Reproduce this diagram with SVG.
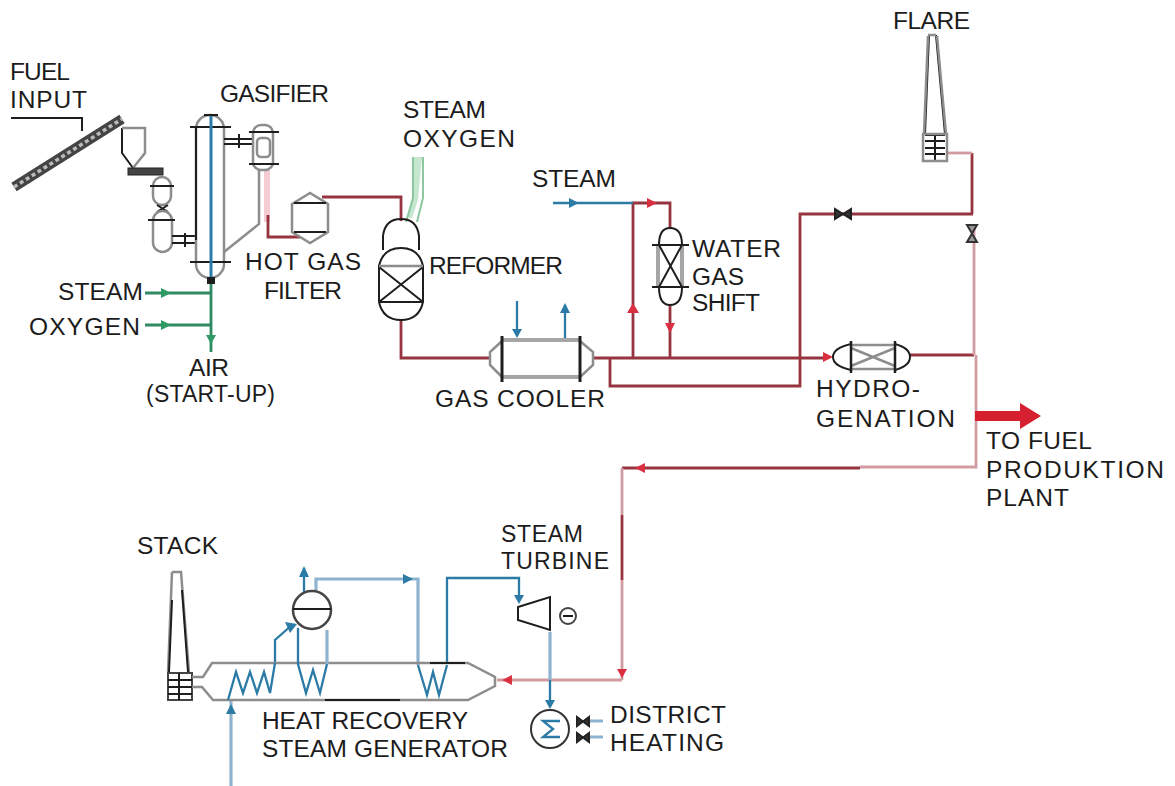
<svg xmlns="http://www.w3.org/2000/svg" width="1175" height="786" viewBox="0 0 1175 786">
<defs>
<style>
text{font-family:"Liberation Sans",Arial,sans-serif;font-size:24.5px;fill:#1c1c1c}
.k{fill:none;stroke:#1e1e1e;stroke-width:2}
.g{fill:none;stroke:#8d8d8d;stroke-width:2.5}
.gt{fill:none;stroke:#a5a5a5;stroke-width:4}
.r{fill:none;stroke:#96343f;stroke-width:2.8}
.rl{fill:none;stroke:#d29aa1;stroke-width:2.8}
.b{fill:none;stroke:#2b7ba6;stroke-width:2.3}
.bl{fill:none;stroke:#8fb3cf;stroke-width:3.2}
.gr{fill:none;stroke:#2f8a62;stroke-width:2.8}
.grl{fill:none;stroke:#8cc79f;stroke-width:2}
.ar{fill:#d92f40}.ab{fill:#2b7ba6}.ag{fill:#2f9a66}
</style>
</defs>
<rect width="1175" height="786" fill="#fff"/>

<g id="connectors">
<path class="k" d="M11 118H82V131"/>
<path class="gr" d="M145 293H211M145 325H211M211 280V352"/>
<path class="ag" d="M161 288L171 293L161 298ZM161 320L171 325L161 330ZM206 335H216L211 344Z"/>
<path d="M267 170V222" fill="none" stroke="#f4ccd2" stroke-width="6"/>
<path class="r" d="M268 215V237H300M322 197H401V221"/>
<path d="M413 157H422L418 200L412 218L407 218L413 198Z" fill="#c5e6cf"/>
<path class="grl" d="M413 157V198L406 222M423 157V198L417 222"/>
<path class="r" d="M401 320V358H490M593 358H824M610 358V386H800V214H973M633 358V203H670V229M670 305V358M910 355H974M972 214V153"/>
<path class="rl" d="M947 153H972"/>
<path class="rl" d="M974 225V355"/>
<path class="rl" d="M976 355V467H860"/>
<path class="r" d="M860 468H622"/>
<path class="rl" d="M622 468V515M622 580V680M622 680H497"/>
<path class="r" d="M622 515V580"/>
<path class="ar" d="M647 198L657 203L647 208ZM627 313L633 303L639 313ZM665 323H675L670 333ZM823 352L833 357L823 362ZM635 468L645 463V473ZM617 669H627L622 678ZM502 680L512 675V685Z"/>
<path d="M975 411H1020V403L1041 416L1020 429V421H975Z" fill="#d6202f"/>
<path class="b" d="M553 203H633M517 301V336M565 340V305"/>
<path class="ab" d="M569 198L579 203L569 208ZM512 329H522L517 338ZM560 313L565 303L570 313Z"/>
<path class="bl" d="M231 786V700"/>
<path class="ab" d="M226 714L231 704L236 714Z"/>
<path class="b" d="M275 663V640L292 625"/>
<path class="ab" d="M285 622L297 624L290 633Z"/>
<path class="b" d="M304 592V568"/>
<path class="ab" d="M299 577L304 566L309 577Z"/>
<path class="bl" d="M316 590V579H418V665M550 632V680"/>
<path class="ab" d="M403 574L413 579L403 584Z"/>
<path class="b" d="M447 663V578H519V600M550 680V706"/>
<path class="ab" d="M514 595H524L519 604ZM545 700H555L550 709Z"/>
<path class="bl" d="M590 721H603M590 737H603" stroke-width="2"/>
</g>

<g id="conveyor">
<path d="M14 187L122 119" fill="none" stroke="#444" stroke-width="10"/>
<path d="M14 187L122 119" fill="none" stroke="#bbb" stroke-width="3.5" stroke-dasharray="4 3"/>
</g>
<g id="hopper">
<path class="k" d="M122 128V153L133 168"/>
<path class="g" d="M122 128H145V153L133 168"/>
<rect x="128" y="168" width="35" height="7" fill="#444" stroke="#222"/>
</g>
<g id="lock-upper">
<rect class="g" x="153" y="177" width="18" height="28" rx="9"/>
<path class="k" d="M150 186H174"/>
</g>
<g id="lock-lower">
<path class="k" d="M157 205L168 212M168 205L157 212"/>
<rect class="g" x="153" y="211" width="19" height="41" rx="9.5"/>
<path class="k" d="M148 220H175M172 236H197M172 243H197M185 233V247"/>
</g>
<g id="gasifier">
<rect class="g" x="196" y="115" width="28" height="163" rx="14"/>
<path class="k" d="M196 128V240" stroke-width="3"/>
<path class="k" d="M190 127H231M190 262H231M204 115H218"/>
<path d="M211 116V278" fill="none" stroke="#2b7ba6" stroke-width="3"/>
<path d="M207 277H215V284H207Z" fill="#1e1e1e"/>
<path class="k" d="M224 139H253M224 144H253M239 134V148"/>
<rect class="g" x="253" y="125" width="20" height="45" rx="8"/>
<path class="k" d="M249 132H279M249 164H279"/>
<rect class="g" x="257" y="138" width="13" height="19" rx="4"/>
<path class="g" d="M259 170V224L224 252"/>
<text x="220" y="102" textLength="109">GASIFIER</text>
</g>
<g id="fuel-label"><text x="10" y="80" textLength="60">FUEL</text><text x="10" y="108" textLength="77">INPUT</text></g>
<g id="feed-labels">
<text x="58" y="300" textLength="85">STEAM</text><text x="29" y="335" textLength="111">OXYGEN</text>
<text x="189" y="376" textLength="40">AIR</text><text x="146" y="402" textLength="129" style="font-size:23px">(START-UP)</text>
</g>
<g id="hot-gas-filter">
<path class="g" d="M292 204L310 193L328 204V232L310 243L292 232Z"/>
<path class="k" d="M294 203H326M294 232H326"/>
<text x="245" y="270" textLength="116">HOT GAS</text><text x="264" y="299" textLength="78">FILTER</text>
</g>
<g id="reformer">
<path class="k" d="M383 250V236Q385 219 401 219Q417 219 419 236V250"/>
<path class="k" d="M379 266Q383 248 401 248Q419 248 423 266V302Q419 320 401 320Q383 320 379 302ZM379 267L423 302M423 267L379 302M379 302H423"/>
<path class="g" d="M379 266H423"/>
<text x="429" y="274" textLength="134">REFORMER</text>
<text x="403" y="118" textLength="83">STEAM</text><text x="403" y="147" textLength="112">OXYGEN</text>
</g>
<g id="gas-cooler">
<path class="g" d="M502 341L490 352V365L502 377"/>
<path class="g" d="M580 341L593 352V365L580 377"/>
<path class="gt" d="M502 340H580M502 377H580"/>
<path d="M502 336V382M580 336V382" fill="none" stroke="#1e1e1e" stroke-width="3"/>
<text x="435" y="407" textLength="170">GAS COOLER</text>
</g>
<g id="steam-label"><text x="532" y="187" textLength="84">STEAM</text></g>
<g id="water-gas-shift">
<path class="gt" d="M658 245V287M682 245V287" stroke-width="3"/>
<path class="k" d="M659 245Q659 228 670 228Q682 228 682 245M659 287Q659 305 670 305Q682 305 682 287"/>
<path class="k" d="M652 245H689M652 287H689M659 245L682 287M682 245L659 287"/>
<text x="692" y="257" textLength="89">WATER</text><text x="692" y="285" textLength="52">GAS</text><text x="692" y="311" textLength="68">SHIFT</text>
</g>
<g id="hydrogenation">
<path class="g" d="M851 345H895M851 369H895" stroke-width="3"/>
<path class="k" d="M851 344Q833 348 833 357Q833 366 851 370M895 344Q910 348 910 357Q910 366 895 370"/>
<path class="g" d="M851 348L895 366M895 348L851 366"/>
<path d="M851 341V373M895 341V373" fill="none" stroke="#1e1e1e" stroke-width="2.5"/>
<text x="816" y="397" textLength="104">HYDRO-</text><text x="816" y="427" textLength="139">GENATION</text>
</g>
<g id="valve-top"><path d="M835 209V219L851 209V219Z" fill="#333" stroke="#222" stroke-width="2"/></g>
<g id="valve-flare"><path d="M967 225H977L967 242H977Z" fill="#999" stroke="#333" stroke-width="2"/></g>
<g id="flare">
<path class="k" d="M929 35L925 134"/>
<path class="k" d="M936 35L945 134"/>
<path class="g" d="M928 35H936M928 36L924 134M937 36L946 134"/>
<path class="k" d="M925 135H945M925 141H945M925 148H945M925 154H945M935 135V160"/>
<rect class="g" x="923" y="134" width="24" height="27"/>
<text x="893" y="29" textLength="77">FLARE</text>
</g>
<g id="product-label"><text x="986" y="449" textLength="106">TO FUEL</text><text x="986" y="478" textLength="178">PRODUKTION</text><text x="986" y="506" textLength="83">PLANT</text></g>
<g id="stack">
<path class="g" d="M172 572H181L189 672M172 572L168 672"/>
<path class="k" d="M172 600L169 672M182 590L188 672"/>
<rect x="168" y="673" width="24" height="27" fill="#fff" stroke="#444" stroke-width="2"/>
<path class="k" d="M168 680H192M168 687H192M168 694H192M179 673V700"/>
<text x="137" y="554" textLength="81">STACK</text>
</g>
<g id="hrsg">
<path class="g" d="M192 677H203L212 663H445M445 663H468L495 677V686L468 700H213L202 687H192" stroke-width="3"/>
<path class="k" d="M325 700H400M430 663H465" stroke-width="2.5"/>
<path class="b" d="M228 700L236 672L243 693L250 672L257 693L264 672L270 693L275 663"/>
<path class="b" d="M298 628V664L306 693L313 670L320 693L327 664"/>
<path class="bl" d="M327 630V664" stroke-width="3"/>
<path class="b" d="M418 665L427 695L433 672L439 695L447 665"/>
<text x="262" y="729" textLength="206">HEAT RECOVERY</text><text x="262" y="757" textLength="246">STEAM GENERATOR</text>
</g>
<g id="drum">
<circle cx="312" cy="610" r="19" fill="#fff" stroke="#444" stroke-width="2.5"/>
<path class="k" d="M293 609H331" stroke-width="2.5"/>
</g>
<g id="steam-turbine">
<path class="k" d="M518 607L550 597V630L518 620Z" stroke="#444" stroke-width="2.5"/>
<circle cx="568" cy="616" r="8" fill="none" stroke="#444" stroke-width="2"/>
<path class="k" d="M563 616H573"/>
<text x="501" y="542" textLength="82" style="font-size:23px">STEAM</text><text x="501" y="569" textLength="108" style="font-size:23px">TURBINE</text>
</g>
<g id="district-heating">
<circle cx="550" cy="729" r="19" fill="#fff" stroke="#333" stroke-width="2"/>
<path class="b" d="M560 721H543L553 729L543 737H560"/>
<path d="M577 717V726L589 717V726ZM577 733V742L589 733V742Z" fill="#333" stroke="#222" stroke-width="2"/>
<text x="610" y="723" textLength="116">DISTRICT</text><text x="610" y="751" textLength="114">HEATING</text>
</g>
</svg>
